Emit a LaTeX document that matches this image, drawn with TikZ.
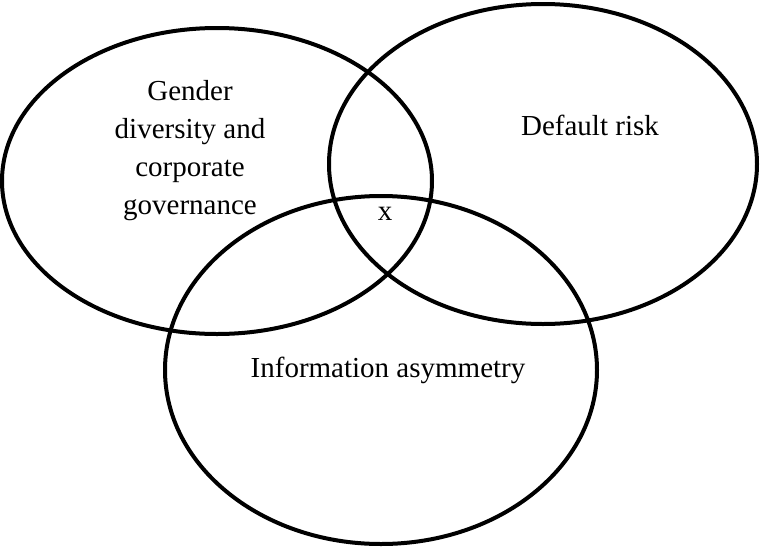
\documentclass[tikz,border=0pt]{standalone}
\usepackage{fontspec}
\setmainfont{Liberation Serif}
\begin{document}
\begin{tikzpicture}[x=1pt,y=-1pt,
  circ/.style={line width=4pt},
  lbl/.style={font=\fontsize{29}{38}\selectfont, align=center}]
\useasboundingbox (0,0) rectangle (761,547);
\draw[circ] (217,181) ellipse [x radius=215, y radius=153];
\draw[circ] (543,164) ellipse [x radius=214, y radius=160];
\draw[circ] (381,370) ellipse [x radius=216, y radius=174];
\node[lbl] (g) at (190,151) {Gender\\diversity and\\corporate\\governance};
\node[lbl] (d) at (590,125) {Default risk};
\node[lbl] (x) at (385,214) {x};
\node[lbl] (i) at (388,370) {Information asymmetry};
\end{tikzpicture}
\end{document}
